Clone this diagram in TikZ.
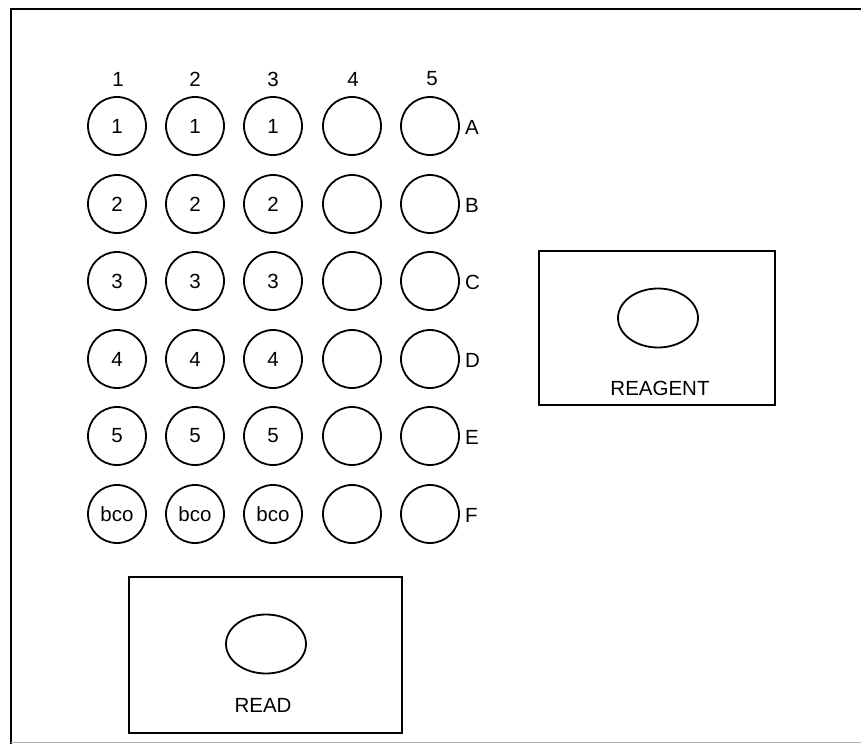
\documentclass[tikz,border=0pt]{standalone}
\usepackage{fontspec}
\setmainfont{Liberation Sans}
\usetikzlibrary{shapes.geometric}
\begin{document}
\begin{tikzpicture}[x=1pt,y=-1pt,
  well/.style={circle,draw,line width=1.8pt,minimum size=58pt,inner sep=0pt,font=\fontsize{20.5}{20.5}\selectfont},
  lbl/.style={font=\fontsize{20.5}{20.5}\selectfont,inner sep=0pt},
  panel/.style={draw,line width=2pt},
  spot/.style={ellipse,draw,line width=1.8pt,minimum width=80pt,minimum height=59pt,inner sep=0pt}]
\useasboundingbox (0,0) rectangle (861,744);
\fill[white] (0,0) rectangle (861,744);
% frame
\coordinate (ftl) at (11,9);
\coordinate (ftr) at (861,9);
\coordinate (fbl) at (11,744);
\draw[line width=2.2pt] (ftr) -- (ftl) -- (fbl);
\coordinate (bl) at (11,742);
\coordinate (br) at (861,742);
\draw[line width=0.8pt,black!30] (bl) -- (br);
% column headers
\foreach \c/\x in {1/118,2/195,3/273,4/353,5/432}{
  \node[lbl] (h\c) at (\x,79) {\c};
}
% wells
\foreach \r/\y/\t/\L in {1/126/1/A,2/204/2/B,3/281/3/C,4/359/4/D,5/436/5/E,6/514/bco/F}{
  \foreach \c/\x in {1/117,2/195,3/273}{
    \node[well] (w\r\c) at (\x,\y) {\t};
  }
  \node[well] (w\r4) at (352,\y) {};
  \node[well] (w\r5) at (430,\y) {};
  \node[lbl,anchor=west] (r\r) at (465,\y+1) {\L};
}
% reagent panel
\node[panel,minimum width=236pt,minimum height=154pt,inner sep=0pt] (reagent) at (657,328) {};
\node[spot] (rspot) at (658,318) {};
\node[lbl] (rtext) at (660,388) {REAGENT};
% read panel
\node[panel,minimum width=273pt,minimum height=156pt,inner sep=0pt] (read) at (265.5,655) {};
\node[spot] (dspot) at (266,644) {};
\node[lbl] (dtext) at (263,705) {READ};
\end{tikzpicture}
\end{document}
